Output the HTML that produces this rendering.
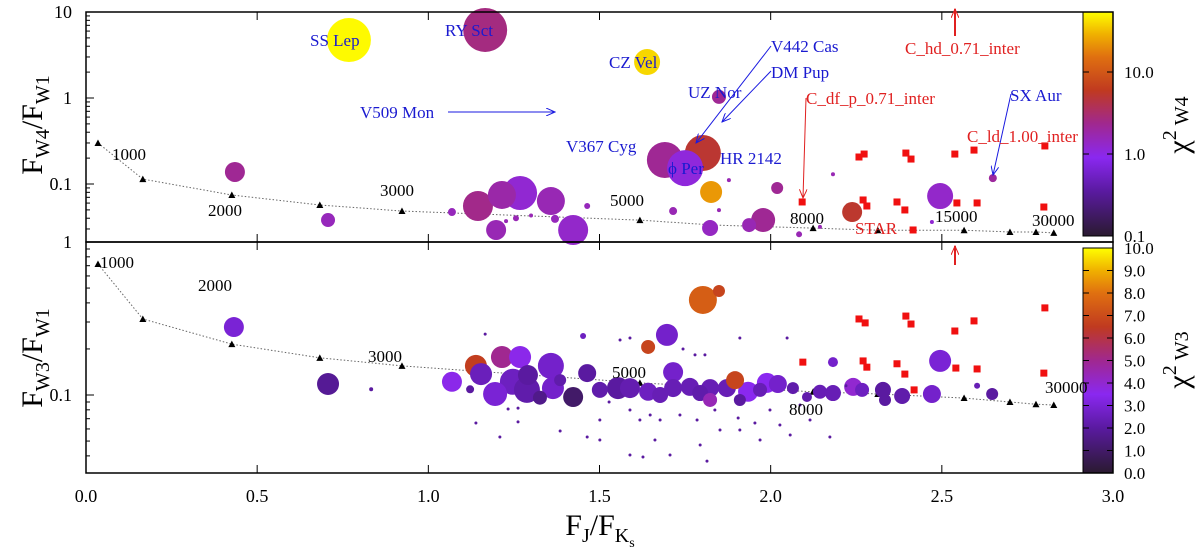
<!DOCTYPE html>
<html><head><meta charset="utf-8"><style>
html,body{margin:0;padding:0;background:#fff;}
svg{display:block;font-family:"Liberation Serif",serif;}
</style></head><body>
<svg id="chart" width="1200" height="553" viewBox="0 0 1200 553" xmlns="http://www.w3.org/2000/svg">
<defs>
<linearGradient id="pal" x1="0" y1="1" x2="0" y2="0">
<stop offset="0" stop-color="#2a1a30"/><stop offset="0.2" stop-color="#5a1aa0"/><stop offset="0.35" stop-color="#8a28f0"/><stop offset="0.5" stop-color="#a02890"/><stop offset="0.65" stop-color="#c03a20"/><stop offset="0.8" stop-color="#e07010"/><stop offset="0.9" stop-color="#f0b000"/><stop offset="1" stop-color="#ffff00"/>
</linearGradient>
<marker id="ab" markerWidth="10" markerHeight="8" refX="9" refY="4" orient="auto" markerUnits="userSpaceOnUse"><path d="M0,0 L9,4 L0,8" fill="none" stroke="#1a1ae0" stroke-width="1"/></marker>
<marker id="ar" markerWidth="10" markerHeight="8" refX="9" refY="4" orient="auto" markerUnits="userSpaceOnUse"><path d="M0,0 L9,4 L0,8" fill="none" stroke="#e02020" stroke-width="1"/></marker>
</defs>
<g id="top-marks"></g>
<g id="bot-marks"></g>
<g id="axes"></g>
<g id="tlabels"></g>
<g id="ann" font-size="17">
<text x="310" y="46" fill="#1a1ad0">SS Lep</text>
<text x="445" y="36" fill="#1a1ad0">RY Sct</text>
<text x="609" y="68" fill="#1a1ad0">CZ Vel</text>
<text x="688" y="98" fill="#1a1ad0">UZ Nor</text>
<text x="566" y="152" fill="#1a1ad0">V367 Cyg</text>
<text x="668" y="174" fill="#1a1ad0">ϕ Per</text>
<text x="720" y="164" fill="#1a1ad0">HR 2142</text>
<text x="771" y="52" fill="#1a1ad0">V442 Cas</text>
<text x="771" y="78" fill="#1a1ad0">DM Pup</text>
<text x="360" y="118" fill="#1a1ad0">V509 Mon</text>
<text x="1010" y="101" fill="#1a1ad0">SX Aur</text>
<line x1="448" y1="112" x2="555" y2="112" stroke="#1a1ae0" marker-end="url(#ab)"/>
<line x1="771" y1="46" x2="696" y2="143" stroke="#1a1ae0" marker-end="url(#ab)"/>
<line x1="771" y1="71" x2="722" y2="122" stroke="#1a1ae0" marker-end="url(#ab)"/>
<line x1="1011" y1="94" x2="993" y2="175" stroke="#1a1ae0" marker-end="url(#ab)"/>
<text x="905" y="54" fill="#e02020">C_hd_0.71_inter</text>
<line x1="955" y1="36" x2="955" y2="9" stroke="#e02020" stroke-width="2" marker-end="url(#ar)"/>
<text x="806" y="104" fill="#e02020">C_df_p_0.71_inter</text>
<polyline points="806,98 803,198" fill="none" stroke="#e02020" marker-end="url(#ar)"/>
<text x="967" y="142" fill="#e02020">C_ld_1.00_inter</text>
<text x="855" y="234" fill="#e02020">STAR</text>
<line x1="955" y1="265" x2="955" y2="246" stroke="#e02020" stroke-width="2" marker-end="url(#ar)"/>
</g>
</svg>
<script>
// ---- data ----
var topX=[0.768,1.166,1.639,1.849,1.691,1.802,1.750,1.826,2.019,0.435,0.707,1.145,1.215,1.268,1.358,1.198,1.423,1.823,1.937,1.978,2.238,2.495,2.649,1.069,1.464,1.715,1.370,2.471,2.182,1.878,1.849,2.083,2.144,1.256,1.300,1.227];
var topY=[4.72,6.18,2.62,1.03,0.19,0.229,0.153,0.0807,0.0898,0.138,0.0381,0.0555,0.0745,0.0786,0.0634,0.0292,0.0292,0.0308,0.0333,0.0381,0.0472,0.0724,0.117,0.0472,0.0555,0.0485,0.0393,0.0362,0.13,0.111,0.0497,0.026,0.0317,0.040,0.043,0.037];
var topSize=[22,22,13,7,18,18,18,11,6,10,7,15,14,17,14,10,15,8,7,12,10,13,4,4,3,4,4,2,2,2,2,3,2,3,2,2];
var topChi=[50,2.6,38,2.2,2.2,5,1.1,22,2.2,2.2,1.5,2.4,1.8,1.2,1.6,1.6,1.3,1.4,1.6,2.2,5.2,1.3,2.0,1.5,1.5,1.6,1.5,1.2,1.6,1.6,1.6,1.6,1.6,1.6,1.6,1.6];
var topSqX=[2.092,2.258,2.273,2.270,2.281,2.369,2.395,2.410,2.538,2.594,2.801,2.544,2.603,2.798,2.392,2.416];
var topSqY=[0.0618,0.206,0.223,0.0652,0.0555,0.0618,0.229,0.195,0.223,0.248,0.277,0.0602,0.0602,0.054,0.0499,0.0292];
var modelX=[0.035,0.166,0.426,0.683,0.923,1.618,1.834,2.124,2.313,2.565,2.699,2.775,2.827];
var modelTopY=[0.30,0.114,0.0745,0.057,0.0485,0.038,0.0333,0.0307,0.029,0.029,0.0277,0.0277,0.027];
var modelBotY=[0.718,0.314,0.215,0.175,0.155,0.12,0.113,0.105,0.1016,0.0955,0.09,0.087,0.086];
var botX=[0.432,0.707,0.833,1.069,1.139,1.154,1.215,1.268,1.195,1.247,1.291,1.288,1.358,1.364,1.423,1.464,1.452,1.122,1.802,1.849,1.697,1.642,1.554,1.589,1.642,1.715,1.715,1.764,1.823,1.823,1.872,1.896,1.934,1.989,2.021,2.065,2.106,2.182,2.182,2.241,2.267,2.328,2.334,2.384,2.495,2.471,2.603,2.647,1.501,1.677,1.794,1.969,1.910,2.144,1.326,1.385];
var botY=[0.278,0.118,0.109,0.122,0.155,0.137,0.177,0.177,0.1015,0.122,0.135,0.108,0.155,0.111,0.097,0.139,0.243,0.109,0.418,0.478,0.247,0.206,0.111,0.111,0.105,0.141,0.111,0.113,0.111,0.0928,0.111,0.125,0.105,0.12,0.118,0.111,0.097,0.164,0.103,0.113,0.108,0.108,0.0928,0.0985,0.167,0.1015,0.115,0.1015,0.108,0.1,0.103,0.108,0.0928,0.105,0.096,0.125];
var botSize=[10,11,2,10,11,11,11,11,12,13,10,13,13,11,10,9,3,4,14,6,11,7,11,10,9,10,9,9,9,7,9,9,10,10,9,6,5,5,8,9,7,8,6,8,11,9,3,6,8,8,8,7,6,7,7,6];
var botChi=[3,1.8,2,3.6,6.6,2.5,5,3.6,3,2.6,2,2.2,2.8,2.8,1,2,2.6,2,7.5,6.8,2.8,6.8,2,2.3,2.6,2.8,2.4,2.4,2.4,4.4,2.4,6.8,3.5,3.5,2.8,2.2,2.2,2.8,2.4,4,2.6,2,2,2.2,3,2.8,2.4,2,2.2,2.4,2.2,2.4,2.0,2.4,1.6,2.2];
var dotX=[1.166,1.139,1.209,1.233,1.262,1.262,1.385,1.464,1.589,1.648,1.560,1.528,1.589,1.618,1.677,1.735,1.785,1.837,1.852,1.905,1.954,1.998,2.027,2.057,2.086,2.115,2.173,1.744,1.779,1.808,1.910,1.910,1.969,1.589,1.662,1.794,1.814,2.048,2.220,1.501,1.501,1.706,1.627];
var dotY=[0.25,0.0656,0.0531,0.081,0.082,0.0667,0.0582,0.0531,0.236,0.074,0.229,0.09,0.0798,0.0687,0.0687,0.074,0.0687,0.0798,0.059,0.0708,0.0656,0.0798,0.0637,0.0548,0.086,0.0687,0.0531,0.2,0.183,0.183,0.236,0.059,0.0508,0.0405,0.0508,0.0471,0.037,0.236,0.115,0.0687,0.0508,0.0405,0.0393];
var botSqX=[2.258,2.276,2.395,2.410,2.538,2.594,2.801,2.094,2.270,2.281,2.369,2.392,2.419,2.541,2.603,2.798];
var botSqY=[0.314,0.296,0.328,0.291,0.262,0.305,0.371,0.164,0.167,0.152,0.16,0.137,0.108,0.15,0.148,0.139];
var xTicks=[0,0.5,1.0,1.5,2.0,2.5,3.0];
var xTickLabels=["0.0","0.5","1.0","1.5","2.0","2.5","3.0"];
var topTempLabels=["1000","2000","3000","5000","8000","15000","30000"];
var botTempLabels=["1000","2000","3000","5000","8000","30000"];
var cbTopTicks=[0.1,1,10];
var cbTopLabels=["0.1","1.0","10.0"];
var cbBotTicks=[0,1,2,3,4,5,6,7,8,9,10];

// ---- scales ----
var L=86,R=1113;
function sx(v){return L+(v/3)*(R-L);}
function syTop(v){return 12+(1-Math.log10(v))*86;}
function syBot(v){return 242-Math.log10(v)*153;}
function cbTopY(v){return 236-Math.log10(v/0.1)*82;}
function cbBotY(v){return 473-v*22.5;}
var stops=[[0,[42,26,48]],[0.2,[90,26,160]],[0.35,[138,40,240]],[0.5,[160,40,144]],[0.65,[192,58,32]],[0.8,[224,112,16]],[0.9,[240,176,0]],[1,[255,255,0]]];
function pal(f){f=Math.max(0,Math.min(1,f));for(var i=1;i<stops.length;i++){if(f<=stops[i][0]){var a=stops[i-1],b=stops[i],t=(f-a[0])/(b[0]-a[0]);var c=a[1].map(function(v,k){return Math.round(v+(b[1][k]-v)*t);});return "rgb("+c.join(",")+")";}}return "rgb(255,255,0)";}
function topCol(c){return pal(Math.log10(c/0.1)/Math.log10(520));}
function botCol(c){return pal(c/10);}
var NS="http://www.w3.org/2000/svg";
function mk(tag,attrs,parent){var e=document.createElementNS(NS,tag);for(var k in attrs)e.setAttribute(k,attrs[k]);parent.appendChild(e);return e;}
var gT=document.getElementById('top-marks'),gB=document.getElementById('bot-marks'),gA=document.getElementById('axes'),gL=document.getElementById('tlabels');

var defs=document.querySelector('defs');
var cp2=mk('clipPath',{id:'cb'},defs);mk('rect',{x:L,y:242,width:R-L,height:231},cp2);
gB.setAttribute('clip-path','url(#cb)');

function model(g,ys,sy){
  var pts=modelX.map(function(x,i){return sx(x)+","+sy(ys[i]);}).join(" ");
  var pl=mk('polyline',{points:pts,fill:'none',stroke:'#666','stroke-width':1,'stroke-dasharray':'1.5,2'},g);
  
  
  modelX.forEach(function(x,i){var X=sx(x),Y=sy(ys[i]);
    var t=mk('path',{d:'M'+(X-3.5)+','+(Y+3)+' L'+X+','+(Y-3.5)+' L'+(X+3.5)+','+(Y+3)+'Z',fill:'#000'},g);
    
    });
}
function circles(g,xs,ys,ss,cs,sy,col){
  var idx=xs.map(function(_,i){return i;}).sort(function(a,b){return ss[b]-ss[a];});
  idx.forEach(function(i){var c=mk('circle',{cx:sx(xs[i]),cy:sy(ys[i]),r:ss[i],fill:col(cs[i])},g);
    
    });
}
function squares(g,xs,ys,sy){xs.forEach(function(x,i){var r=mk('rect',{x:sx(x)-3.5,y:sy(ys[i])-3.5,width:7,height:7,fill:'#f01010'},g);
  
  });}

model(gT,modelTopY,syTop);
circles(gT,topX,topY,topSize,topChi,syTop,topCol);
squares(gT,topSqX,topSqY,syTop);
model(gB,modelBotY,syBot);
circles(gB,botX,botY,botSize,botChi,syBot,botCol);
dotX.forEach(function(x,i){var c=mk('circle',{cx:sx(x),cy:syBot(dotY[i]),r:1.5,fill:'#5a1aa0'},gB);
  
  });
squares(gB,botSqX,botSqY,syBot);

var tPosT=[[112,160],[208,216],[380,196],[610,206],[790,224],[935,222],[1032,226]];
topTempLabels.forEach(function(s,i){var t=mk('text',{x:tPosT[i][0],y:tPosT[i][1],'font-size':17,fill:'#000'},gL);t.textContent=s;
  
  });
var tPosB=[[100,268],[198,291],[368,362],[612,378],[789,415],[1045,393]];
botTempLabels.forEach(function(s,i){var t=mk('text',{x:tPosB[i][0],y:tPosB[i][1],'font-size':17,fill:'#000'},gL);t.textContent=s;
  
  });

var cb1=mk('rect',{x:1083,y:12,width:30,height:224,fill:'url(#pal)',stroke:'#000'},gA);


var cb2=mk('rect',{x:1083,y:248,width:30,height:225,fill:'url(#pal)',stroke:'#000'},gA);


cbTopTicks.forEach(function(v,i){var y=cbTopY(v);mk('line',{x1:1083,y1:y,x2:1089,y2:y,stroke:'#000'},gA);mk('line',{x1:1107,y1:y,x2:1113,y2:y,stroke:'#000'},gA);
  var t=mk('text',{x:1124,y:y+6,'font-size':17},gA);t.textContent=cbTopLabels[i];
  
  });
cbBotTicks.forEach(function(v){var y=cbBotY(v);mk('line',{x1:1083,y1:y,x2:1089,y2:y,stroke:'#000'},gA);mk('line',{x1:1107,y1:y,x2:1113,y2:y,stroke:'#000'},gA);
  var t=mk('text',{x:1124,y:y+6,'font-size':17},gA);t.textContent=v.toFixed(1);
  
  });

var f1=mk('rect',{x:L,y:12,width:R-L,height:230,fill:'none',stroke:'#000','stroke-width':1.5},gA);


var f2=mk('rect',{x:L,y:242,width:R-L,height:231,fill:'none',stroke:'#000','stroke-width':1.5},gA);



xTicks.forEach(function(v,i){var X=sx(v);
  [[12,1],[242,-1],[242,1],[473,-1]].forEach(function(p){mk('line',{x1:X,y1:p[0],x2:X,y2:p[0]+p[1]*8,stroke:'#000'},gA);});
  var t=mk('text',{x:X,y:502,'font-size':18,'text-anchor':'middle'},gA);t.textContent=xTickLabels[i];
  
  });
for(var d=-2;d<1;d++){for(var m=1;m<10;m++){var v=m*Math.pow(10,d);var y=syTop(v);if(y>242||y<12)continue;mk('line',{x1:L,y1:y,x2:L+(m==1?8:4),y2:y,stroke:'#000'},gA);}}
[[10,"10"],[1,"1"],[0.1,"0.1"]].forEach(function(p){var t=mk('text',{x:72,y:syTop(p[0])+6,'font-size':18,'text-anchor':'end'},gA);t.textContent=p[1];
  
  });
for(var d2=-2;d2<0;d2++){for(var m2=1;m2<10;m2++){var v2=m2*Math.pow(10,d2);var y2=syBot(v2);if(y2>473||y2<242)continue;mk('line',{x1:L,y1:y2,x2:L+(m2==1?8:4),y2:y2,stroke:'#000'},gA);}}
[[1,"1"],[0.1,"0.1"]].forEach(function(p){var t=mk('text',{x:72,y:syBot(p[0])+6,'font-size':18,'text-anchor':'end'},gA);t.textContent=p[1];
  
  });
</script>
<svg style="position:absolute;left:0;top:0" width="1200" height="553">
<text transform="translate(42,125) rotate(-90)" text-anchor="middle" font-family="Liberation Serif,serif" font-size="30">F<tspan font-size="20" dy="7">W4</tspan><tspan dy="-7">/F</tspan><tspan font-size="20" dy="7">W1</tspan></text>
<text transform="translate(42,358) rotate(-90)" text-anchor="middle" font-family="Liberation Serif,serif" font-size="30">F<tspan font-size="20" dy="7">W3</tspan><tspan dy="-7">/F</tspan><tspan font-size="20" dy="7">W1</tspan></text>
<text x="600" y="535" text-anchor="middle" font-family="Liberation Serif,serif" font-size="30">F<tspan font-size="20" dy="7">J</tspan><tspan dy="-7">/F</tspan><tspan font-size="20" dy="7">K</tspan><tspan font-size="14" dy="5">s</tspan></text>
<text transform="translate(1188,125) rotate(-90)" text-anchor="middle" font-family="Liberation Serif,serif" font-size="30">χ<tspan font-size="20" dy="-12">2</tspan><tspan font-size="20" dy="12"> W4</tspan></text>
<text transform="translate(1188,360) rotate(-90)" text-anchor="middle" font-family="Liberation Serif,serif" font-size="30">χ<tspan font-size="20" dy="-12">2</tspan><tspan font-size="20" dy="12"> W3</tspan></text>
</svg>
</body></html>
